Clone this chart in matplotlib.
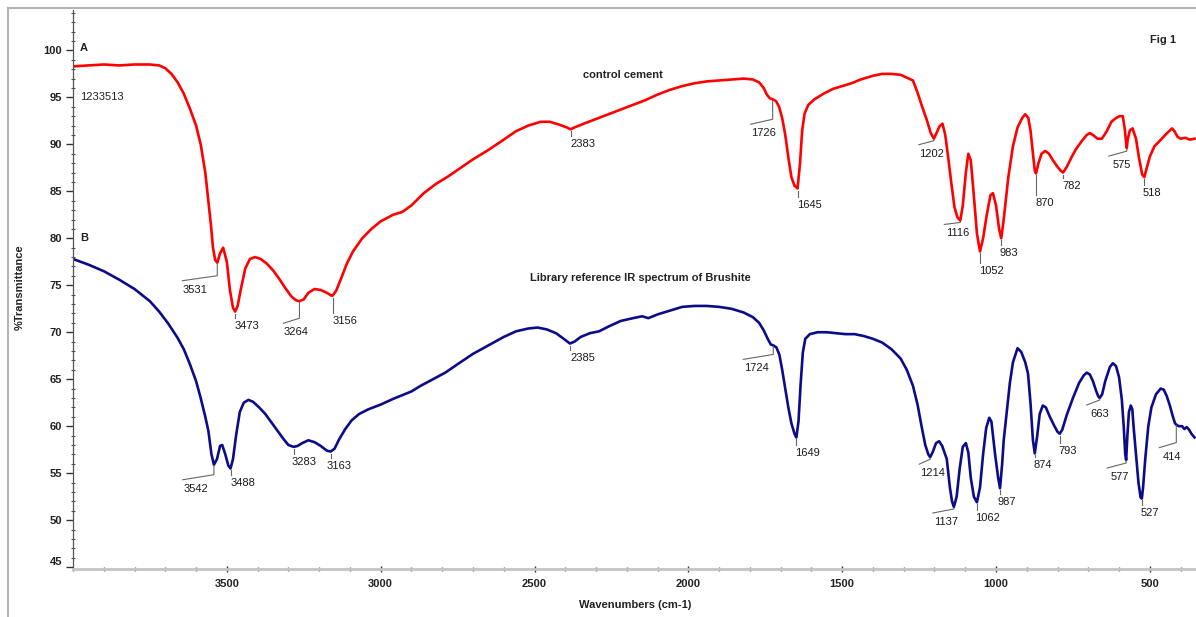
import numpy as np
import matplotlib
matplotlib.use("Agg")
import matplotlib.pyplot as plt
from matplotlib.ticker import MultipleLocator
from matplotlib.lines import Line2D

# ---- spectrum A: control cement ----
wn_a = [4000, 3950, 3900, 3850, 3800, 3750, 3720, 3700, 3680, 3660, 3640, 3620,
        3600, 3585, 3570, 3560, 3552, 3545, 3538, 3531, 3522, 3512, 3500, 3490,
        3480, 3473, 3465, 3455, 3440, 3425, 3408, 3390, 3370, 3350, 3330, 3310,
        3290, 3275, 3264, 3250, 3235, 3215, 3195, 3175, 3160, 3156, 3145, 3130,
        3110, 3090, 3060, 3030, 3000, 2960, 2930, 2900, 2860, 2820, 2780, 2740,
        2700, 2650, 2600, 2560, 2520, 2480, 2450, 2420, 2395, 2383, 2370, 2340,
        2300, 2260, 2220, 2180, 2140, 2100, 2060, 2020, 1980, 1940, 1900, 1860,
        1820, 1790, 1770, 1755, 1745, 1735, 1726, 1715, 1705, 1695, 1685, 1675,
        1665, 1655, 1645, 1637, 1630, 1622, 1610, 1590, 1560, 1530, 1500, 1470,
        1440, 1400, 1370, 1340, 1310, 1290, 1270, 1255, 1240, 1225, 1212, 1202,
        1192, 1184, 1174, 1165, 1155, 1145, 1135, 1125, 1116, 1108, 1098, 1090,
        1082, 1072, 1062, 1052, 1042, 1030, 1018, 1010, 1000, 990, 983, 975,
        960, 945, 930, 915, 905, 895, 888, 880, 874, 870, 862, 852, 840, 828,
        815, 800, 790, 782, 770, 755, 740, 720, 705, 695, 685, 670, 656, 640,
        625, 610, 598, 588, 581, 576, 575, 572, 565, 556, 545, 535, 525, 518,
        510, 500, 485, 467, 450, 428, 420, 410, 400, 385, 370, 355]
t_a = [98.3, 98.4, 98.5, 98.4, 98.5, 98.5, 98.4, 98.1, 97.5, 96.6, 95.4, 93.8,
       92.0, 90.0, 87.0, 84.0, 81.5, 79.0, 77.7, 77.4, 78.4, 79.0, 77.5, 74.5,
       72.6, 72.2, 72.8, 74.5, 76.8, 77.8, 78.0, 77.8, 77.3, 76.6, 75.7, 74.7,
       73.8, 73.4, 73.3, 73.5, 74.2, 74.6, 74.5, 74.2, 73.9, 73.9, 74.4, 75.6,
       77.3, 78.6, 80.0, 81.0, 81.8, 82.5, 82.8, 83.5, 84.8, 85.8, 86.6, 87.5,
       88.4, 89.4, 90.5, 91.4, 92.0, 92.4, 92.4, 92.1, 91.8, 91.6, 91.8, 92.2,
       92.7, 93.2, 93.7, 94.2, 94.7, 95.3, 95.8, 96.2, 96.5, 96.7, 96.8, 96.9,
       97.0, 96.9, 96.6, 96.0, 95.3, 94.9, 94.8, 94.6, 94.0, 92.8, 91.0, 88.6,
       86.5, 85.6, 85.3, 88.0, 91.5, 93.3, 94.2, 94.8, 95.4, 95.9, 96.2, 96.5,
       96.9, 97.3, 97.5, 97.5, 97.4, 97.1, 96.8, 95.5, 94.0, 92.6, 91.2, 90.6,
       91.3, 91.9, 92.2, 91.0, 88.5, 85.8, 83.3, 82.2, 81.9, 83.5, 87.0, 89.0,
       88.3, 84.5, 80.5, 78.6, 80.0, 82.5, 84.6, 84.8, 83.5, 81.0, 80.0, 82.0,
       86.5, 89.8, 91.8, 92.8, 93.2, 92.8, 91.5, 89.0, 87.2, 86.9, 88.0, 89.0,
       89.3, 89.0, 88.3, 87.6, 87.2, 87.0, 87.6, 88.6, 89.5, 90.4, 91.0, 91.2,
       91.0, 90.6, 90.6, 91.4, 92.4, 92.8, 93.0, 93.0, 91.5, 89.8, 89.6, 90.5,
       91.5, 91.7, 90.6, 88.5, 86.8, 86.5, 87.5, 88.7, 89.8, 90.4, 91.0, 91.7,
       91.4, 90.8, 90.6, 90.7, 90.5, 90.6]

# ---- spectrum B: library reference, brushite ----
wn_b = [4000, 3950, 3900, 3850, 3800, 3750, 3720, 3690, 3660, 3640, 3620, 3600,
        3585, 3570, 3560, 3550, 3542, 3532, 3522, 3515, 3505, 3495, 3488, 3480,
        3470, 3458, 3445, 3430, 3415, 3395, 3375, 3355, 3335, 3315, 3300, 3283,
        3270, 3255, 3235, 3215, 3195, 3175, 3163, 3150, 3135, 3115, 3095, 3070,
        3040, 3000, 2960, 2930, 2900, 2870, 2830, 2790, 2750, 2700, 2650, 2600,
        2560, 2520, 2490, 2460, 2430, 2405, 2385, 2370, 2350, 2320, 2290, 2260,
        2220, 2180, 2150, 2130, 2100, 2060, 2020, 1980, 1940, 1900, 1860, 1820,
        1790, 1770, 1755, 1742, 1732, 1724, 1714, 1704, 1695, 1685, 1675, 1665,
        1655, 1649, 1642, 1635, 1628, 1620, 1605, 1580, 1550, 1520, 1490, 1460,
        1430, 1400, 1370, 1340, 1310, 1290, 1270, 1255, 1242, 1230, 1220, 1214,
        1205, 1195, 1185, 1175, 1160, 1150, 1143, 1137, 1128, 1118, 1108, 1098,
        1090, 1082, 1072, 1062, 1052, 1042, 1032, 1022, 1015, 1008, 1003, 993,
        987, 980, 975, 965, 955, 945, 930, 918, 905, 896, 888, 880, 874, 866,
        858, 848, 838, 825, 810, 800, 793, 785, 770, 750, 730, 715, 705, 695,
        685, 675, 668, 663, 655, 645, 630, 620, 610, 600, 591, 585, 580, 577,
        573, 568, 562, 557, 553, 545, 537, 530, 526, 522, 515, 505, 495, 480,
        465, 455, 445, 435, 425, 418, 412, 405, 395, 388, 380, 372, 365, 355]
t_b = [77.8, 77.2, 76.5, 75.6, 74.6, 73.3, 72.2, 70.9, 69.4, 68.2, 66.6, 64.8,
       63.0, 61.0, 59.5, 57.0, 55.9, 56.5, 57.9, 58.0, 57.0, 55.8, 55.5, 56.5,
       59.0, 61.5, 62.5, 62.8, 62.6, 62.0, 61.3, 60.4, 59.5, 58.6, 58.0, 57.8,
       57.9, 58.2, 58.5, 58.3, 57.9, 57.4, 57.3, 57.6, 58.6, 59.7, 60.6, 61.3,
       61.8, 62.3, 62.9, 63.3, 63.7, 64.3, 65.0, 65.7, 66.6, 67.7, 68.6, 69.5,
       70.1, 70.4, 70.5, 70.3, 69.9, 69.3, 68.8, 69.0, 69.5, 69.9, 70.1, 70.6,
       71.2, 71.5, 71.7, 71.5, 71.9, 72.3, 72.7, 72.8, 72.8, 72.7, 72.5, 72.1,
       71.6, 71.0, 70.2, 69.3, 68.7, 68.6, 68.4, 67.6, 66.0, 64.0, 62.0, 60.3,
       59.2, 58.8, 60.5, 64.5, 67.8, 69.3, 69.8, 70.0, 70.0, 69.9, 69.8, 69.8,
       69.6, 69.3, 68.9, 68.2, 67.2, 66.0, 64.3, 62.3, 60.0, 58.0, 57.0, 56.7,
       57.3, 58.2, 58.4, 57.9, 56.5, 53.5, 52.0, 51.4, 52.5, 55.5, 57.8, 58.2,
       57.2, 54.5, 52.5, 51.9, 53.5, 57.0, 59.8, 60.9, 60.5, 58.5, 57.0, 54.5,
       53.4, 56.0, 58.5, 61.5, 64.6, 66.8, 68.3, 67.9, 66.8, 65.6, 62.5, 58.5,
       57.1, 59.0, 61.3, 62.2, 62.0, 61.0, 60.0, 59.4, 59.2, 59.6, 61.2, 63.0,
       64.6, 65.4, 65.7, 65.5, 64.8, 63.8, 63.2, 63.0, 63.4, 64.8, 66.3, 66.7,
       66.4, 65.2, 62.8, 60.0, 57.0, 56.4, 59.0, 61.5, 62.2, 61.8, 60.0, 57.0,
       54.0, 52.4, 52.3, 53.5, 56.5, 60.0, 62.0, 63.4, 64.0, 63.9, 63.2, 62.2,
       61.0, 60.3, 60.1, 60.0, 60.0, 59.7, 59.9, 59.6, 59.2, 58.8]

# labelled band positions (cm-1)
peaks_a = [3531, 3473, 3264, 3156, 2383, 1726, 1645, 1202, 1116, 1052, 983,
           870, 782, 575, 518]
peaks_b = [3542, 3488, 3283, 3163, 2385, 1724, 1649, 1214, 1137, 1062, 987,
           874, 793, 663, 577, 527, 414]

# label placement: (dx, dy) in pixels from the band point (dy downward), leader style
place_a = [(-22, 27, 'l'), (12, 14, 'v'), (-3, 31, 'l'), (12, 25, 'v'),
           (12, 15, 'v'), (-9, 34, 'l'), (12, 16, 'v'), (-2, 15, 'l'),
           (-3, 13, 'l'), (11, 20, 'v'), (8, 15, 'v'), (9, 30, 'v'),
           (9, 13, 'v'), (-5, 17, 'l'), (8, 16, 'v')]
place_b = [(-18, 24, 'l'), (12, 15, 'v'), (10, 15, 'v'), (9, 14, 'v'),
           (13, 14, 'v'), (-17, 23, 'l'), (11, 16, 'v'), (2, 16, 'l'),
           (-8, 15, 'l'), (11, 16, 'v'), (7, 14, 'v'), (8, 12, 'v'),
           (8, 17, 'v'), (0, 16, 'l'), (-6, 17, 'l'), (8, 15, 'v'),
           (-4, 32, 'l')]

W, H, DPI = 1196, 617, 100
fig = plt.figure(figsize=(W / DPI, H / DPI), dpi=DPI)
plt.rcParams['font.family'] = ['Liberation Sans', 'DejaVu Sans']

ax_l, ax_r, ax_t, ax_b = 73, 1196, 10, 569
ax = fig.add_axes([ax_l / W, 1 - ax_b / H, (ax_r - ax_l) / W, (ax_b - ax_t) / H])
ax.set_xlim(4000, 350)
ax.set_ylim(44.8, 104.3)

RED = '#ff0000'
BLUE = '#0c0c8a'
ax.plot(wn_a, t_a, color=RED, lw=1.9, solid_joinstyle='round')
ax.plot(wn_b, t_b, color=BLUE, lw=1.9, solid_joinstyle='round')

for s in ('top', 'right'):
    ax.spines[s].set_visible(False)
ax.spines['left'].set_color('#555555')
ax.spines['left'].set_linewidth(0.9)
ax.spines['bottom'].set_color('#c4c4c4')
ax.spines['bottom'].set_linewidth(2.0)

ax.xaxis.set_minor_locator(MultipleLocator(100))
ax.yaxis.set_minor_locator(MultipleLocator(1))
ax.set_xticks([3500, 3000, 2500, 2000, 1500, 1000, 500])
ax.set_yticks([45, 50, 55, 60, 65, 70, 75, 80, 85, 90, 95, 100])
ax.tick_params(axis='both', which='major', labelsize=8, colors='#333333',
               labelcolor='#222222')
ax.tick_params(axis='x', which='major', direction='inout', length=5, width=1, pad=5)
ax.tick_params(axis='x', which='minor', direction='inout', length=3, width=1,
               color='#555555')
ax.tick_params(axis='y', which='major', direction='out', length=5, width=1, pad=3)
ax.tick_params(axis='y', which='minor', direction='inout', length=3, width=0.8,
               color='#555555')
for lab in ax.get_xticklabels() + ax.get_yticklabels():
    lab.set_fontweight('bold')
# the lowest y label sits a little above its tick, clear of the x axis
ax.get_yticklabels()[0].set_va('bottom')

# band labels with leader lines
def label_bands(wn, t, peaks, place):
    xs = np.asarray(wn[::-1], float)
    ys = np.asarray(t[::-1], float)
    to_disp = ax.transData
    to_data = ax.transData.inverted()
    for p, (dx, dy, style) in zip(peaks, place):
        tp = np.interp(p, xs, ys)
        px, py = to_disp.transform((p, tp))
        if style == 'v':
            pts = [(px, py - 2), (px, py - max(dy - 8, 4))]
        else:
            knee = max(dy - 14, 2)
            pts = [(px, py - 1), (px, py - knee), (px + dx - 13, py - (dy - 9))]
        dpts = to_data.transform(pts)
        ax.add_line(Line2D(dpts[:, 0], dpts[:, 1], color='#666666', lw=0.8))
        tx, ty = to_data.transform((px + dx, py - dy))
        ax.text(tx, ty, str(p), ha='center', va='center', fontsize=8,
                color='#1a1a1a')

label_bands(wn_a, t_a, peaks_a, place_a)
label_bands(wn_b, t_b, peaks_b, place_b)

def ftext(x, y, s, **kw):
    fig.text(x / W, 1 - y / H, s, **kw)

ftext(80, 48, 'A', fontsize=8, fontweight='bold', color='#222222', va='center')
ftext(80, 97, '1233513', fontsize=8, color='#222222', va='center')
ftext(80, 238, 'B', fontsize=8, fontweight='bold', color='#222222', va='center')
ftext(623, 75, 'control cement', fontsize=8, fontweight='bold', color='#222222',
      ha='center', va='center')
ftext(640, 278, 'Library reference IR spectrum of Brushite', fontsize=8,
      fontweight='bold', color='#222222', ha='center', va='center')
ftext(1163, 40, 'Fig 1', fontsize=8, fontweight='bold', color='#222222',
      ha='center', va='center')
ftext(635, 605, 'Wavenumbers (cm-1)', fontsize=8, fontweight='bold',
      color='#222222', ha='center', va='center')
ftext(20, 287, '%Transmittance', fontsize=8, fontweight='bold', color='#222222',
      ha='center', va='center', rotation=90)

# outer frame (left and top edges)
fig.add_artist(Line2D([8 / W, 8 / W], [0, 1 - 8 / H], color='#b4b4b4', lw=1.5))
fig.add_artist(Line2D([8 / W, 1], [1 - 8 / H, 1 - 8 / H], color='#b4b4b4', lw=1.5))

fig.savefig('out.png', dpi=DPI, facecolor='white')
